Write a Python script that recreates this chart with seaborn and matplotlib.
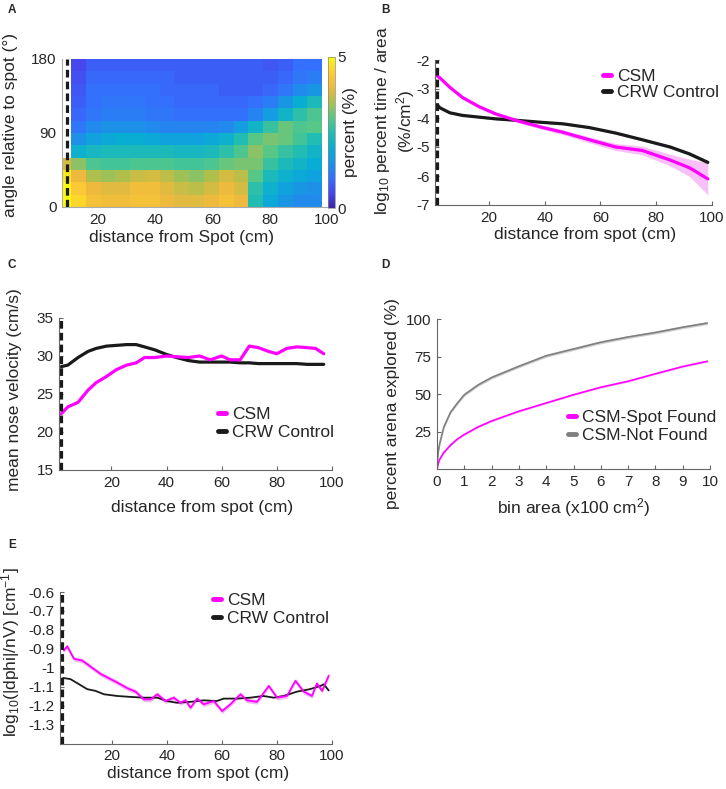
import numpy as np
import pandas as pd
import seaborn as sns
import matplotlib.pyplot as plt
from matplotlib.colors import LinearSegmentedColormap
from matplotlib.lines import Line2D


# ---- A: percent time by distance (cm) and angle to spot (deg)
# rows go from the 165-180 deg bin (top) down to 0-15 deg (bottom), columns are ~5 cm bins
# (nan = bin never visited, left white like the original)
heat_x0, heat_dx = 5.6, 5.15
heat_da = 15
nan = np.nan
heat_pct = [
    [nan, 0.5, 0.8, 0.8, 0.8, 0.8, 0.8, 0.8, 0.8, 0.8, 0.8, 0.8, 0.8, 0.8, 0.7, 0.8, 1.0, 1.0],
    [nan, 0.6, 0.9, 0.9, 0.9, 0.9, 0.9, 0.9, 0.8, 0.8, 0.8, 0.8, 0.8, 0.8, 0.8, 0.9, 1.1, 1.2],
    [nan, 0.7, 1.0, 1.0, 1.0, 1.0, 1.0, 0.9, 0.9, 0.9, 0.9, 0.8, 0.8, 0.8, 0.9, 1.1, 1.4, 1.6],
    [nan, 0.8, 1.0, 1.1, 1.1, 1.1, 1.0, 1.0, 0.9, 0.9, 0.9, 0.9, 0.9, 1.0, 1.2, 1.6, 2.0, 2.4],
    [nan, 0.9, 1.1, 1.2, 1.2, 1.2, 1.1, 1.1, 1.0, 1.0, 1.0, 1.0, 1.0, 1.3, 1.7, 2.2, 2.6, 2.9],
    [nan, 1.1, 1.4, 1.5, 1.5, 1.5, 1.4, 1.3, 1.3, 1.3, 1.3, 1.4, 1.7, 2.2, 2.7, 3.1, 2.9, 3.0],
    [nan, 1.5, 1.8, 1.9, 2.0, 2.0, 1.9, 1.8, 1.8, 1.8, 1.9, 2.1, 2.5, 3.0, 3.2, 3.1, 2.8, 2.5],
    [nan, 2.1, 2.3, 2.4, 2.4, 2.4, 2.4, 2.4, 2.3, 2.3, 2.4, 2.6, 2.9, 3.3, 3.0, 2.7, 2.5, 2.2],
    [3.8, 3.3, 2.9, 2.8, 2.8, 2.9, 2.9, 2.9, 2.8, 2.8, 2.9, 3.1, 3.2, 3.2, 2.7, 2.4, 2.2, 2.0],
    [4.8, 4.0, 3.5, 3.4, 3.5, 3.7, 3.8, 3.6, 3.4, 3.3, 3.5, 3.8, 3.6, 3.0, 2.4, 2.1, 1.9, 1.8],
    [5.0, 4.4, 4.0, 3.9, 3.9, 4.1, 4.1, 3.9, 3.7, 3.6, 3.8, 4.0, 3.8, 2.6, 2.1, 1.8, 1.6, 1.5],
    [5.0, 4.6, 4.2, 4.1, 4.1, 4.2, 4.2, 4.0, 3.9, 3.9, 4.0, 4.2, 4.0, 2.5, 1.9, 1.6, 1.4, 1.4],
]

# ---- B: log10 percent time / area
b_dist = [1.5, 2.5, 6, 10.5, 16.5, 22.5, 30, 39, 46.5, 56, 65.5, 75, 85, 92, 98.5]
b_csm = [-2.55, -2.62, -2.94, -3.29, -3.61, -3.86, -4.09, -4.32, -4.49, -4.75, -5.0, -5.12, -5.45, -5.72, -6.1]
b_csm_err = [0.05, 0.05, 0.05, 0.05, 0.05, 0.06, 0.06, 0.07, 0.08, 0.1, 0.12, 0.15, 0.2, 0.3, 0.55]
b_crw = [-3.55, -3.65, -3.82, -3.91, -3.97, -4.03, -4.08, -4.15, -4.2, -4.33, -4.52, -4.75, -5.0, -5.24, -5.53]
b_crw_err = [0.03, 0.03, 0.03, 0.03, 0.03, 0.03, 0.03, 0.03, 0.03, 0.03, 0.04, 0.04, 0.05, 0.06, 0.07]

# ---- C: mean nose velocity (cm/s)
c_dist = [1.8, 4.2, 7.9, 11.5, 14.5, 18.2, 21.8, 25.5, 29, 32, 35.8, 40, 43.6, 47.9,
          52, 55.8, 60, 63, 66.7, 70, 73.3, 77, 80, 83.6, 87.3, 91, 94, 97]
c_csm = [22.4, 23.3, 23.9, 25.5, 26.5, 27.3, 28.2, 28.8, 29.1, 29.8, 29.8, 30.0, 29.9, 29.8,
         30.0, 29.5, 30.0, 29.5, 29.5, 31.3, 31.1, 30.6, 30.3, 31.0, 31.2, 31.1, 31.0, 30.3]
c_crw = [28.6, 28.8, 29.8, 30.6, 31.0, 31.3, 31.4, 31.5, 31.5, 31.2, 30.8, 30.2, 29.8, 29.4,
         29.2, 29.2, 29.2, 29.2, 29.1, 29.1, 29.0, 29.0, 29.0, 29.0, 29.0, 28.9, 28.9, 28.9]

# ---- D: percent arena explored vs bin area (x100 cm^2)
d_area = [0, 0.05, 0.1, 0.25, 0.5, 0.75, 1, 1.5, 2, 3, 4, 5, 6, 7, 8, 9, 9.9]
d_found = [0, 4, 6.5, 11, 16, 20, 23, 28, 32, 38.5, 44, 49.5, 54.5, 58.5, 63.5, 68.3, 71.8]
d_notfound = [3, 12, 17, 28, 38, 44, 49.5, 56, 61, 68.5, 75.5, 80, 84.5, 88, 91, 94.5, 97.3]

# ---- E: log10(|dphi|/nV)
e_csm_dist = [2.4, 3.6, 6.1, 9.1, 12.1, 15.8, 19.4, 21.8, 25.5, 28.5, 31.5, 34, 36.4, 39.4, 42.4, 44.8,
              46.7, 48.5, 50.9, 53.3, 57, 60, 63, 66.7, 69, 72.7, 77, 80, 83.6, 86.7, 89.7, 92.7,
              94.5, 96.4, 98.8]
e_csm = [-0.909, -0.887, -0.953, -0.962, -0.994, -1.033, -1.06, -1.078, -1.108, -1.126, -1.167, -1.167,
         -1.14, -1.176, -1.158, -1.185, -1.172, -1.211, -1.163, -1.193, -1.176, -1.229, -1.193, -1.14,
         -1.172, -1.18, -1.096, -1.158, -1.149, -1.069, -1.126, -1.149, -1.083, -1.122, -1.042]
e_crw_dist = [2.2, 4.8, 7.9, 10.9, 13.9, 17, 21.8, 26.7, 31.5, 36.4, 40, 43.6, 48.5, 53.3, 58, 60.6,
              65.5, 70.3, 75, 78.8, 82.4, 87.3, 92, 95.8, 97, 98.8]
e_crw = [-1.054, -1.06, -1.087, -1.113, -1.122, -1.14, -1.149, -1.154, -1.158, -1.158, -1.176, -1.185,
         -1.18, -1.172, -1.176, -1.163, -1.163, -1.158, -1.149, -1.158, -1.149, -1.126, -1.113, -1.096,
         -1.087, -1.12]

MAG = '#ff00ff'
MAG_BAND = '#f4a6f4'
GREY = '#808080'
SPINE = '#666666'
LABEL_FS = 12.5
TICK_FS = 11

parula = LinearSegmentedColormap.from_list('parula', [
    (0.00, (0.242, 0.150, 0.660)),
    (0.10, (0.275, 0.280, 0.930)),
    (0.20, (0.200, 0.440, 0.990)),
    (0.30, (0.110, 0.570, 0.910)),
    (0.40, (0.030, 0.680, 0.830)),
    (0.50, (0.130, 0.740, 0.700)),
    (0.60, (0.340, 0.780, 0.530)),
    (0.70, (0.680, 0.750, 0.300)),
    (0.80, (0.930, 0.730, 0.240)),
    (0.90, (0.990, 0.800, 0.200)),
    (1.00, (0.976, 0.984, 0.055)),
])


def px_axes(fig, left, top, right, bottom):
    W, H = fig.get_size_inches() * fig.dpi
    return fig.add_axes([left / W, 1 - bottom / H, (right - left) / W, (bottom - top) / H])


def style_axes(ax):
    for s in ['top', 'right']:
        ax.spines[s].set_visible(False)
    for s in ['left', 'bottom']:
        ax.spines[s].set_visible(True)
        ax.spines[s].set_color(SPINE)
        ax.spines[s].set_linewidth(0.8)
    ax.tick_params(direction='in', length=3, width=0.8, color=SPINE, labelsize=TICK_FS, pad=4)
    ax.grid(False)


def spot_line(ax, x):
    ax.axvline(x, color='k', lw=2.3, ls=(0, (2.4, 1.3)), zorder=5)


def short_legend(ax, anchor, labels, colors, spacing):
    fig = ax.figure
    W, H = fig.get_size_inches() * fig.dpi
    handles = [Line2D([], [], color=c, lw=3.5) for c in colors]
    ax.legend(handles, labels, loc='upper left', bbox_to_anchor=(anchor[0] / W, 1 - anchor[1] / H),
              bbox_transform=fig.transFigure, frameon=False, fontsize=LABEL_FS,
              handlelength=0.45, handletextpad=0.35, labelspacing=spacing,
              borderpad=0, borderaxespad=0)


sns.set_theme(style='ticks')
plt.rcParams['font.family'] = ['Liberation Sans', 'DejaVu Sans']
plt.rcParams['mathtext.default'] = 'regular'

fig = plt.figure(figsize=(7.26, 7.89), dpi=100)

# ---------------- A
axA = px_axes(fig, 62, 59, 327, 207)
cax = px_axes(fig, 328, 57, 335, 208)
n_rows, n_cols = len(heat_pct), len(heat_pct[0])
angles = [180 - heat_da * (i + 0.5) for i in range(n_rows)]
dists = [round(heat_x0 + heat_dx * (j + 0.5), 2) for j in range(n_cols)]
heat_df = pd.DataFrame(heat_pct, index=angles, columns=dists)
sns.heatmap(heat_df, ax=axA, cmap=parula, vmin=0, vmax=5, cbar_ax=cax,
            xticklabels=False, yticklabels=False, cbar_kws={'ticks': [0, 5]})


def to_col(x):
    return (x - heat_x0) / heat_dx


axA.set_xlim(to_col(7.6), to_col(100))
axA.set_ylim(n_rows, 0)
axA.set_xticks([to_col(v) for v in [20, 40, 60, 80, 100]])
axA.set_xticklabels(['20', '40', '60', '80', '100'])
axA.set_yticks([n_rows, n_rows / 2, 0])
axA.set_yticklabels(['0', '90', '180'], rotation=0)
axA.set_xlabel('distance from Spot (cm)', fontsize=LABEL_FS)
axA.set_ylabel('angle relative to spot (°)', fontsize=LABEL_FS)
style_axes(axA)
axA.spines['left'].set_color('#aaaaaa')
axA.spines['bottom'].set_color('#aaaaaa')
axA.tick_params(length=0)
spot_line(axA, to_col(9.3))
axA.xaxis.set_label_coords(0.452, -0.157)
axA.yaxis.set_label_coords(-0.165, 0.554)
cbar = axA.collections[0].colorbar
cbar.outline.set_linewidth(0.5)
cbar.outline.set_edgecolor('#888888')
cbar.ax.tick_params(labelsize=TICK_FS, length=0, pad=2)
cbar.set_label('percent (%)', fontsize=LABEL_FS, labelpad=-2)

# ---------------- B
axB = px_axes(fig, 435, 60, 712, 205)
axB.fill_between(b_dist, np.array(b_csm) - b_csm_err, np.array(b_csm) + b_csm_err,
                 color=MAG_BAND, alpha=0.7, lw=0)
axB.fill_between(b_dist, np.array(b_crw) - b_crw_err, np.array(b_crw) + b_crw_err,
                 color='#999999', alpha=0.6, lw=0)
sns.lineplot(x=b_dist, y=b_crw, ax=axB, color='k', lw=2.3)
sns.lineplot(x=b_dist, y=b_csm, ax=axB, color=MAG, lw=2.3)
axB.set_xlim(0.7, 100)
axB.set_ylim(-7, -2)
axB.set_xticks([20, 40, 60, 80, 100])
axB.set_yticks([-2, -3, -4, -5, -6, -7])
axB.set_yticklabels([str(v) for v in [-2, -3, -4, -5, -6, -7]])
axB.set_xlabel('distance from spot (cm)', fontsize=LABEL_FS)
axB.set_ylabel('log$_{10}$ percent time / area\n(%/cm$^{2}$)', fontsize=LABEL_FS, linespacing=1.15)
style_axes(axB)
spot_line(axB, 1.5)
axB.xaxis.set_label_coords(0.54, -0.155)
axB.yaxis.set_label_coords(-0.065, 0.58)
short_legend(axB, (603, 69), ['CSM', 'CRW Control'], [MAG, 'k'], 0.05)

# ---------------- C
axC = px_axes(fig, 59, 318, 332, 470)
sns.lineplot(x=c_dist, y=c_crw, ax=axC, color='k', lw=2.3)
sns.lineplot(x=c_dist, y=c_csm, ax=axC, color=MAG, lw=2.3)
axC.set_xlim(1, 100)
axC.set_ylim(15, 35)
axC.set_xticks([20, 40, 60, 80, 100])
axC.set_yticks([15, 20, 25, 30, 35])
axC.set_xlabel('distance from spot (cm)', fontsize=LABEL_FS)
axC.set_ylabel('mean nose velocity (cm/s)', fontsize=LABEL_FS)
style_axes(axC)
spot_line(axC, 1.6)
axC.xaxis.set_label_coords(0.524, -0.2)
axC.yaxis.set_label_coords(-0.134, 0.526)
short_legend(axC, (218, 407), ['CSM', 'CRW Control'], [MAG, 'k'], 0.15)

# ---------------- D
axD = px_axes(fig, 437, 319, 710, 469)
axD.fill_between(d_area, np.array(d_notfound) - 1.0, np.array(d_notfound) + 1.0,
                 color='#bbbbbb', alpha=0.7, lw=0)
axD.fill_between(d_area, np.array(d_found) - 0.6, np.array(d_found) + 0.6,
                 color=MAG_BAND, alpha=0.7, lw=0)
sns.lineplot(x=d_area, y=d_notfound, ax=axD, color=GREY, lw=1.2)
sns.lineplot(x=d_area, y=d_found, ax=axD, color=MAG, lw=1.2)
axD.set_xlim(0, 10)
axD.set_ylim(0, 100)
axD.set_xticks(range(0, 11))
axD.set_yticks([25, 50, 75, 100])
axD.set_xlabel('bin area (x100 cm$^{2}$)', fontsize=LABEL_FS)
axD.set_ylabel('percent arena explored (%)', fontsize=LABEL_FS)
style_axes(axD)
axD.xaxis.set_label_coords(0.499, -0.18)
axD.yaxis.set_label_coords(-0.136, 0.435)
short_legend(axD, (568, 410), ['CSM-Spot Found', 'CSM-Not Found'], [MAG, GREY], 0.15)

# ---------------- E
axE = px_axes(fig, 60, 592, 332, 743.5)
axE.fill_between(e_csm_dist, np.array(e_csm) - 0.012, np.array(e_csm) + 0.012,
                 color=MAG_BAND, alpha=0.8, lw=0)
sns.lineplot(x=e_crw_dist, y=e_crw, ax=axE, color='k', lw=1.3)
sns.lineplot(x=e_csm_dist, y=e_csm, ax=axE, color=MAG, lw=1.3)
axE.set_xlim(1, 100)
axE.set_ylim(-1.4, -0.6)
axE.set_xticks([20, 40, 60, 80, 100])
axE.set_yticks([-0.6, -0.7, -0.8, -0.9, -1.0, -1.1, -1.2, -1.3])
axE.set_yticklabels(['-0.6', '-0.7', '-0.8', '-0.9', '-1', '-1.1', '-1.2', '-1.3'])
axE.set_xlabel('distance from spot (cm)', fontsize=LABEL_FS)
axE.set_ylabel('log$_{10}$(|dphi|/nV) [cm$^{-1}$]', fontsize=LABEL_FS)
style_axes(axE)
spot_line(axE, 1.6)
axE.xaxis.set_label_coords(0.507, -0.148)
axE.yaxis.set_label_coords(-0.14, 0.604)
short_legend(axE, (213, 593), ['CSM', 'CRW Control'], [MAG, 'k'], 0.15)

# panel letters
for letter, (x, y) in zip('ABCDE', [(8, 10), (381, 10), (8, 265), (381, 265), (8, 545)]):
    fig.text(x / 726, 1 - y / 789, letter, fontsize=8.5, fontweight='bold', va='center', ha='left')

fig.savefig('out.png', dpi=100)
